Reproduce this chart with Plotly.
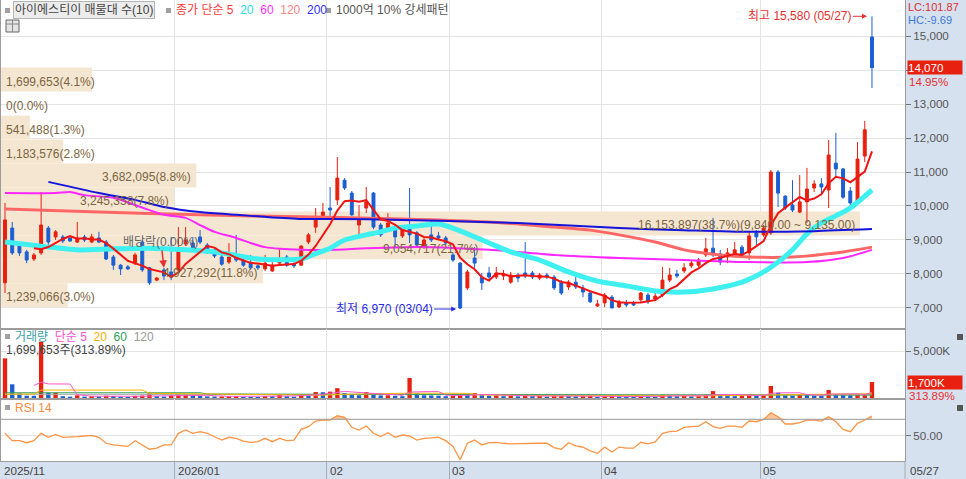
import numpy as np
import pandas as pd
import plotly.graph_objects as go

# ---- trading days shown (KRX calendar) ----
holidays = ["2025-12-25", "2025-12-31", "2026-01-01", "2026-02-16", "2026-02-17",
            "2026-02-18", "2026-03-02", "2026-05-01", "2026-05-05", "2026-05-25"]
days = pd.bdate_range("2025-11-26", "2026-05-27")
days = days[~days.isin(pd.to_datetime(holidays))]
ex_div_day = "2025-12-29"

# ---- daily candles (won) ----
opens = [7740, 9350, 8910, 8650, 8440, 8620, 9350, 9090, 9090, 9060,
         8940, 9090, 8940, 9060, 8940, 8500, 8260, 8210, 8320, 8940,
         8180, 7820, 8120, 8060, 8120, 8880, 8910, 9090, 8850, 8710,
         8500, 8350, 8500, 8410, 8320, 8240, 8150, 8090, 8320, 8500,
         8290, 8260, 8940, 9380, 9650, 9940, 10180, 10760, 10380, 9440,
         9940, 10380, 9440, 9290, 9350, 9120, 9350, 9210, 8790, 9150,
         9120, 9060, 8560, 8320, 7590, 8470, 7910, 8030, 7910, 7940,
         7760, 7970, 8030, 8030, 7880, 7970, 7910, 7760, 7620, 7760,
         7590, 7440, 7060, 7150, 7320, 7030, 7150, 7150, 7240, 7380,
         7260, 7380, 7820, 8000, 8090, 8240, 8260, 8560, 8760, 8590,
         8500, 8620, 8790, 8620, 9210, 9150, 9210, 11000, 10290, 10030,
         9820, 10120, 10530, 10650, 10470, 11260, 11090, 10440, 10090, 11470,
         14970]
highs = [10090, 9530, 8940, 8710, 8620, 10410, 9410, 9290, 9150, 9120,
         9530, 9150, 9180, 9240, 9000, 8560, 8290, 8260, 8620, 9000,
         8210, 7910, 8180, 9090, 9380, 9380, 9090, 9290, 8910, 8760,
         8560, 8910, 9150, 8470, 8560, 8290, 8560, 8350, 8710, 8560,
         8350, 8850, 9210, 9940, 10090, 10560, 11440, 10820, 10440, 10030,
         10560, 10410, 9500, 9790, 9440, 9410, 10530, 9260, 9060, 9590,
         9240, 9120, 8620, 8350, 8120, 8790, 8030, 8210, 8210, 8120,
         8060, 8030, 8940, 8090, 8030, 8030, 7970, 7820, 7820, 7910,
         7680, 7470, 7240, 7440, 7380, 7240, 7240, 7210, 7470, 7440,
         7470, 8210, 8180, 8120, 8320, 8410, 8470, 9060, 9650, 8710,
         8760, 8940, 8850, 9240, 9290, 9440, 11060, 11060, 10320, 10760,
         10910, 11120, 10760, 10820, 11940, 12150, 11120, 10560, 11880, 12500,
         15580]
lows = [7440, 8560, 8530, 8320, 8380, 8560, 8850, 9000, 8910, 8940,
        8910, 8940, 8910, 8910, 8410, 8120, 7970, 8120, 8260, 8060,
        7680, 7790, 7820, 7820, 8060, 8820, 8710, 8880, 8590, 8470,
        8240, 8290, 8350, 8210, 8120, 8120, 8090, 8060, 8260, 8210,
        8180, 8240, 8880, 9210, 9590, 9680, 10030, 10470, 9710, 9090,
        9790, 9320, 9090, 9240, 8790, 9060, 8910, 8790, 8740, 8940,
        9000, 8850, 8350, 6970, 7530, 8180, 7530, 7820, 7850, 7820,
        7710, 7760, 7880, 7850, 7820, 7850, 7530, 7380, 7530, 7560,
        7320, 7150, 7030, 7030, 7000, 7000, 7030, 7060, 7180, 7120,
        7210, 7320, 7760, 7880, 8030, 8180, 8210, 8500, 8500, 8260,
        8320, 8560, 8500, 8410, 8850, 9090, 9150, 9970, 9880, 9820,
        9790, 9500, 10410, 10320, 9940, 10850, 10210, 9970, 10030, 11290,
        13470]
closes = [9590, 8620, 8620, 8410, 8560, 9440, 8940, 9240, 8970, 8970,
          9060, 9000, 9090, 8940, 8440, 8260, 8150, 8150, 8560, 8120,
          7740, 7880, 7940, 7910, 8760, 9000, 8760, 8940, 8650, 8530,
          8290, 8500, 8410, 8260, 8180, 8180, 8320, 8260, 8380, 8260,
          8240, 8820, 9150, 9650, 9820, 9880, 10820, 10530, 9740, 9650,
          10120, 9380, 9150, 9500, 9090, 9350, 9150, 8850, 9000, 9000,
          9060, 8910, 8410, 7000, 8060, 8320, 7740, 7910, 8030, 8000,
          7970, 7880, 7940, 7910, 7970, 7910, 7590, 7440, 7760, 7620,
          7470, 7180, 7120, 7380, 7000, 7180, 7090, 7090, 7440, 7180,
          7350, 7820, 7970, 7940, 8180, 8320, 8410, 8740, 8560, 8350,
          8620, 8710, 8560, 9120, 9090, 9350, 11000, 10380, 9940, 9880,
          10120, 10500, 10650, 10560, 11500, 11090, 10260, 10090, 11380, 12240,
          14070]

# volume, thousand shares
vol_k = [4220, 1460, 500, 250, 240, 5970, 560, 570, 200, 150,
         290, 150, 200, 170, 250, 220, 150, 120, 230, 260,
         500, 200, 160, 300, 400, 420, 250, 220, 180, 160,
         170, 190, 220, 150, 140, 120, 200, 190, 380, 200,
         150, 330, 280, 640, 620, 680, 1050, 520, 380, 300,
         640, 400, 280, 300, 250, 200, 2130, 500, 300, 280,
         250, 200, 240, 420, 350, 530, 300, 250, 280, 200,
         220, 180, 290, 200, 210, 150, 200, 230, 210, 180,
         190, 220, 120, 200, 250, 150, 120, 100, 200, 150,
         130, 350, 300, 200, 220, 180, 200, 380, 740, 350,
         250, 200, 220, 400, 250, 280, 1280, 560, 300, 260,
         390, 350, 250, 220, 850, 390, 350, 300, 350, 410.65,
         1699.653]

rsi = [52.7, 43.6, 43.6, 41.1, 43.6, 52.7, 47.8, 51.4, 47.8, 47.8,
       48.6, 49.4, 50.2, 47.8, 40.4, 38.5, 37.3, 36.5, 43.6, 38.3,
       33.0, 34.3, 38.3, 38.3, 52.7, 56.8, 52.7, 54.7, 52.7, 48.5,
       44.4, 47.8, 46.5, 43.0, 41.6, 42.4, 46.5, 42.4, 46.5, 43.6,
       44.4, 57.6, 60.9, 67.9, 69.1, 69.1, 74.4, 72.3, 60.1, 56.8,
       61.7, 52.7, 48.6, 53.5, 47.8, 50.6, 49.4, 44.4, 46.5, 47.0,
       47.8, 43.6, 36.5, 20.0, 40.4, 44.4, 38.3, 41.1, 41.6, 40.4,
       39.6, 40.0, 40.4, 40.4, 40.4, 40.4, 35.0, 33.0, 41.1, 37.3,
       35.5, 31.0, 28.0, 35.7, 29.6, 35.7, 34.3, 34.3, 41.6, 39.6,
       42.0, 52.7, 54.7, 55.5, 60.1, 60.9, 61.7, 67.0, 61.0, 58.9,
       61.7, 61.7, 60.1, 67.9, 67.0, 69.9, 78.1, 73.2, 64.2, 64.2,
       65.9, 69.1, 69.1, 67.9, 73.2, 67.0, 57.6, 54.7, 65.0, 69.1,
       74.0]

# moving averages (index, won)
ma20_i = [0, 5, 10, 15, 20, 25, 30, 35, 38, 41, 43, 45, 47, 50, 52, 54, 57, 60, 62, 64,
          67, 70, 74, 78, 82, 86, 90, 94, 98, 102, 105, 107, 109, 111, 113, 115, 117, 119, 120]
ma20_v = [8940, 8820, 8710, 8740, 8760, 8710, 8620, 8440, 8420, 8440, 8600, 8760, 9000, 9150,
          9240, 9350, 9410, 9470, 9350, 9180, 8910, 8650, 8410, 8060, 7790, 7650, 7500, 7470,
          7560, 7760, 8060, 8350, 8710, 9180, 9500, 9710, 9940, 10290, 10470]
ma60_i = [0, 7, 9, 11, 15, 18, 20, 22, 25, 27, 29, 32, 34, 36, 38, 41, 45, 50, 55, 59,
          67, 76, 85, 94, 103, 111, 116, 120]
ma60_v = [10380, 10380, 10410, 10320, 10240, 10030, 9880, 9740, 9650, 9440, 9240, 9060, 8910,
          8790, 8740, 8710, 8710, 8760, 8790, 8790, 8710, 8560, 8470, 8410, 8350, 8350, 8470, 8710]
ma120_i = [0, 13, 27, 41, 55, 67, 76, 81, 85, 90, 94, 99, 103, 109, 116, 120]
ma120_v = [9910, 9820, 9740, 9680, 9620, 9530, 9380, 9290, 9150, 8940, 8710, 8560, 8500,
           8500, 8650, 8790]
ma200_i = [6, 13, 18, 22, 27, 32, 36, 41, 45, 55, 66, 71, 85, 94, 103, 112, 120]
ma200_v = [10710, 10380, 10180, 9970, 9820, 9740, 9680, 9620, 9620, 9590, 9530, 9500, 9350,
           9290, 9240, 9260, 9320]

# volume moving averages (index, thousand shares)
vma20_i = [0, 4, 5, 19, 20, 44, 46, 56, 64, 66, 76, 98, 106, 114, 120]
vma20_v = [420, 420, 850, 850, 500, 300, 380, 520, 500, 330, 250, 240, 330, 400, 470]
vma60_i = [0, 27, 28, 62, 65, 90, 105, 120]
vma60_v = [560, 560, 430, 430, 380, 320, 300, 330]
vma120_i = [0, 60, 80, 120]
vma120_v = [400, 400, 400, 330]

# volume profile (매물대), 10 price bands
band_lo = [13365, 12660, 11955, 11250, 10545, 9840, 9135, 8430, 7725, 7020]
band_hi = [14070, 13365, 12660, 11955, 11250, 10545, 9840, 9135, 8430, 7725]
band_vol = [1699653, 0, 541488, 1183576, 3682095, 3245358, 16153897, 9054717, 4927292, 1239066]
band_pct = [4.1, 0.0, 1.3, 2.8, 8.8, 7.8, 38.7, 21.7, 11.8, 3.0]

price_ticks = [7000, 8000, 9000, 10000, 11000, 12000, 13000, 14000, 15000]

# ---- look ----
FONT = "Liberation Sans, Noto Sans CJK KR, sans-serif"
FS = 11.6
RED, BLUE = "#e8200f", "#1b5fd1"
BEIGE = "#f5e6d2"
SIDE = "#d6e1ef"
GRID = "#e4e4e4"
BORDER = "#9c9c9c"

L, R, T, B = 1, 61, 0, 18
PW, PH = 966 - L - R, 479 - T - B


def px(x):
    return (x - L) / PW


def py(y):
    return (PH + T - y) / PH


n = len(closes)
xi = list(range(n))
close_s = pd.Series(closes, dtype=float)
ma5 = close_s.rolling(5).mean()
vol_s = pd.Series(vol_k, dtype=float)
vma5 = vol_s.rolling(5).mean()
vol_col = [RED] + [RED if vol_k[i] > vol_k[i - 1] else BLUE for i in range(1, n)]

# month gridlines / date labels
month_first = [i for i in range(1, n) if days[i].month != days[i - 1].month and i > 10]
grid_x = [i - 0.5 for i in month_first]
date_lab = [(-0.5, days[0].strftime("%Y/%m"))]
for i in month_first:
    d = days[i]
    date_lab.append((i - 0.5, d.strftime("%Y/%m") if d.month == 1 else d.strftime("%m")))

# the current-price box hides the nearest axis label
price_text = ["" if abs(v - closes[-1]) < 300 else f"{v:,}" for v in price_ticks]

fig = go.Figure()

# volume profile bands on their own (hidden) x scale
band_mid = [(a + b) / 2 for a, b in zip(band_lo, band_hi)]
band_max = 40.73
fig.add_trace(go.Bar(y=band_mid, x=band_pct, base=0, orientation="h",
                     width=[b - a for a, b in zip(band_lo, band_hi)],
                     marker=dict(color=BEIGE, line=dict(width=0)),
                     xaxis="x", yaxis="y", hoverinfo="skip"))

# price moving averages
for idx, val, col, w in [(ma120_i, ma120_v, "#ff6767", 3), (ma60_i, ma60_v, "#ff26ff", 2),
                         (ma20_i, ma20_v, "#3ef0f0", 5), (ma200_i, ma200_v, "#1414dc", 2)]:
    fig.add_trace(go.Scatter(x=idx, y=val, mode="lines", xaxis="x2", yaxis="y",
                             line=dict(color=col, width=w, shape="spline", smoothing=0.7),
                             hoverinfo="skip"))

fig.add_trace(go.Candlestick(
    x=xi, open=opens, high=highs, low=lows, close=closes,
    increasing=dict(line=dict(color=RED, width=1), fillcolor=RED),
    decreasing=dict(line=dict(color=BLUE, width=1), fillcolor=BLUE),
    whiskerwidth=0, xaxis="x2", yaxis="y", hoverinfo="skip"))

fig.add_trace(go.Scatter(x=xi, y=ma5, mode="lines", xaxis="x2", yaxis="y",
                         line=dict(color="#f01414", width=2), hoverinfo="skip"))

# volume
fig.add_trace(go.Bar(x=xi, y=vol_k, width=0.6, marker=dict(color=vol_col, line=dict(width=0)),
                     xaxis="x3", yaxis="y2", hoverinfo="skip"))
for idx, val, col in [(vma120_i, vma120_v, "#a8a8a8"), (vma60_i, vma60_v, "#2e9e58"),
                      (vma20_i, vma20_v, "#f0b400")]:
    fig.add_trace(go.Scatter(x=idx, y=val, mode="lines", xaxis="x3", yaxis="y2",
                             line=dict(color=col, width=1), hoverinfo="skip"))
fig.add_trace(go.Scatter(x=xi, y=vma5, mode="lines", xaxis="x3", yaxis="y2",
                         line=dict(color="#ff55cc", width=1), hoverinfo="skip"))

# RSI with shading above 70
fig.add_trace(go.Scatter(x=xi, y=[70] * n, mode="lines", line=dict(width=0),
                         xaxis="x4", yaxis="y3", hoverinfo="skip"))
fig.add_trace(go.Scatter(x=xi, y=np.maximum(rsi, 70), mode="lines", line=dict(width=0),
                         fill="tonexty", fillcolor="#f8c49a", xaxis="x4", yaxis="y3",
                         hoverinfo="skip"))
fig.add_trace(go.Scatter(x=xi, y=rsi, mode="lines", line=dict(color="#ff9444", width=1.3),
                         xaxis="x4", yaxis="y3", hoverinfo="skip"))

ax_common = dict(showgrid=True, gridcolor=GRID, gridwidth=1, zeroline=False,
                 showline=True, mirror=True, linecolor=BORDER, linewidth=1)
tick_font = dict(family=FONT, size=FS, color="#555")
xr = [-0.554, 124.57]
fig.update_layout(
    width=966, height=479, margin=dict(l=L, r=R, t=T, b=B),
    paper_bgcolor=SIDE, plot_bgcolor="white", showlegend=False, hovermode=False,
    boxgap=0.42, font=dict(family=FONT, size=FS, color="#555"),
    xaxis=dict(visible=False, range=[0, band_max], domain=[0, 1], anchor="y", fixedrange=True),
    xaxis2=dict(overlaying="x", anchor="y", range=xr, tickmode="array", tickvals=grid_x,
                showticklabels=False, ticks="", rangeslider=dict(visible=False), **ax_common),
    xaxis3=dict(matches="x2", anchor="y2", tickmode="array", tickvals=grid_x,
                showticklabels=False, ticks="", **ax_common),
    xaxis4=dict(matches="x2", anchor="y3", tickmode="array", tickvals=grid_x,
                showticklabels=False, ticks="outside", ticklen=18, tickcolor="#a4aeba",
                **ax_common),
    yaxis=dict(domain=[py(329), 1], anchor="x", side="right", range=[6382, 16059],
               tickmode="array", tickvals=price_ticks, ticktext=price_text,
               ticks="outside", ticklen=5, tickcolor="#777", tickfont=tick_font, **ax_common),
    yaxis2=dict(domain=[py(399), py(329)], anchor="x3", side="right", range=[-101, 7338],
                tickmode="array", tickvals=[5000], ticktext=["5,000K"], ticks="outside",
                ticklen=5, tickcolor="#777", tickfont=tick_font, **ax_common),
    yaxis3=dict(domain=[0, py(399)], anchor="x4", side="right", range=[18.5, 95.1],
                tickmode="array", tickvals=[50], ticktext=["50.00"], ticks="outside",
                ticklen=5, tickcolor="#777", tickfont=tick_font, **ax_common),
)

shapes = [
    dict(type="line", xref="paper", x0=0, x1=1, yref="y3", y0=70, y1=70,
         line=dict(color="#9a9a9a", width=1)),
    dict(type="line", xref="paper", x0=1, x1=1, yref="paper", y0=0, y1=py(479),
         line=dict(color="#a4aeba", width=1)),
    dict(type="rect", xref="paper", yref="paper", x0=px(6), x1=px(19), y0=py(32), y1=py(20),
         line=dict(color="#666", width=1), fillcolor="#e4e4e4"),
    dict(type="line", xref="paper", yref="paper", x0=px(6), x1=px(19), y0=py(24), y1=py(24),
         line=dict(color="#888", width=1)),
    dict(type="line", xref="paper", yref="paper", x0=px(12.5), x1=px(12.5), y0=py(32), y1=py(20),
         line=dict(color="#888", width=1)),
]
for (x0, y0) in [(5, 8), (166, 8), (326, 8), (5, 334), (5, 405)]:
    shapes.append(dict(type="rect", xref="paper", yref="paper", x0=px(x0), x1=px(x0 + 5),
                       y0=py(y0 + 5), y1=py(y0), line=dict(width=0), fillcolor="#a0a0a0"))
for y0 in [334, 405]:
    shapes.append(dict(type="rect", xref="paper", yref="paper", x0=px(957), x1=px(963),
                       y0=py(y0 + 6), y1=py(y0), line=dict(width=0), fillcolor="#555"))
fig.update_layout(shapes=shapes)

anns = []


def note(x, y, text, color="#444", size=FS, **kw):
    d = dict(x=x, y=y, xref="paper", yref="paper", text=text, showarrow=False,
             xanchor="left", yanchor="middle", font=dict(color=color, size=size, family=FONT))
    d.update(kw)
    anns.append(d)


# legends
note(px(13), py(10), "아이에스티이 매물대 수(10)", size=12, bgcolor="#ececec",
     bordercolor="#b4b4b4", borderwidth=1, borderpad=1)
note(px(174), py(10), "<span style='color:#ff3c3c'>종가 단순 5</span>  "
     "<span style='color:#1fe0e0'>20</span>  <span style='color:#ff33ff'>60</span>  "
     "<span style='color:#ff8585'>120</span>  <span style='color:#3333ff'>200</span>", size=12)
note(px(334), py(10), "1000억 10% 강세패턴", "#555", size=12)
note(px(13), py(337), "<span style='color:#3aa0a8'>거래량</span>  "
     "<span style='color:#ff4fcf'>단순 5</span>  <span style='color:#f0b000'>20</span>  "
     "<span style='color:#2e9e58'>60</span>  <span style='color:#999'>120</span>", size=12)
vol_chg = (vol_k[-1] / vol_k[-2] - 1) * 100
note(px(4), py(350), f"{round(vol_k[-1] * 1000):,}주({vol_chg:.2f}%)", size=12)
note(px(13), py(408), "RSI 14", "#ff8a3c", size=12)

# right column
lc = (closes[-1] / min(lows) - 1) * 100
hc = (closes[-1] / max(highs) - 1) * 100
note(1, py(7), f"LC:{lc:.2f}", "#e03030", size=11, xshift=2, borderpad=0)
note(1, py(20), f"HC:{hc:.2f}", "#3a78d8", size=11, xshift=2, borderpad=0)
chg = (closes[-1] / closes[-2] - 1) * 100
anns.append(dict(x=1, xref="paper", y=closes[-1], yref="y", text=f"{closes[-1]:,}",
                 showarrow=False, xanchor="left", yanchor="middle", xshift=2, align="left",
                 width=54, bgcolor=RED, borderpad=0, font=dict(color="white", size=FS, family=FONT)))
anns.append(dict(x=1, xref="paper", y=closes[-1], yref="y", text=f"{chg:.2f}%", yshift=-14,
                 showarrow=False, xanchor="left", yanchor="middle", xshift=3, borderpad=0,
                 font=dict(color="#e83030", size=FS, family=FONT)))
anns.append(dict(x=1, xref="paper", y=vol_k[-1], yref="y2", text=f"{round(vol_k[-1]):,}K",
                 showarrow=False, xanchor="left", yanchor="middle", xshift=2, align="left",
                 width=54, bgcolor=RED, borderpad=0, font=dict(color="white", size=FS, family=FONT)))
anns.append(dict(x=1, xref="paper", y=vol_k[-1], yref="y2", text=f"{vol_chg:.2f}%", yshift=-13,
                 showarrow=False, xanchor="left", yanchor="middle", xshift=3, borderpad=0,
                 font=dict(color="#e83030", size=FS, family=FONT)))
note(px(908), py(470), days[-1].strftime("%m/%d"))

# date labels
for pos, lab in date_lab:
    anns.append(dict(x=pos, xref="x4", y=py(470), yref="paper", text=lab, showarrow=False,
                     xanchor="left", yanchor="middle", xshift=1,
                     font=dict(color="#444", size=FS, family=FONT)))

# volume profile labels
big = int(np.argmax(band_pct))
for k in range(len(band_lo)):
    txt = f"{band_vol[k]:,}({band_pct[k]:.1f}%)"
    if k == big:
        txt += f"({band_hi[k]:,.2f} ~ {band_lo[k]:,.2f})"
    bar_px = band_pct[k] / band_max * PW
    if bar_px > len(txt) * 6.1:
        pos, anchor, sh = band_pct[k], "right", -3
    else:
        pos, anchor, sh = 0, "left", 3
    anns.append(dict(x=pos, xref="x", y=band_mid[k], yref="y", text=txt, showarrow=False,
                     xanchor=anchor, yanchor="middle", xshift=sh, yshift=-2,
                     font=dict(color="#7b6541", size=12, family=FONT)))

# high / low / ex-dividend markers
hi_i = int(np.argmax(highs))
lo_i = int(np.argmin(lows))
anns.append(dict(x=hi_i, xref="x2", y=highs[hi_i], yref="y",
                 text=f"최고 {highs[hi_i]:,} ({days[hi_i].strftime('%m/%d')})",
                 showarrow=True, arrowhead=2, arrowsize=1, arrowwidth=1, arrowcolor="#e83030",
                 ax=-72, ay=0, standoff=5, font=dict(color="#e83030", size=12, family=FONT)))
anns.append(dict(x=lo_i, xref="x2", y=lows[lo_i], yref="y",
                 text=f"최저 {lows[lo_i]:,} ({days[lo_i].strftime('%m/%d')})",
                 showarrow=True, arrowhead=2, arrowsize=1, arrowwidth=1, arrowcolor="#2a2ae0",
                 ax=-76, ay=0, standoff=4, font=dict(color="#2a2ae0", size=12, family=FONT)))
dv = days.get_loc(pd.Timestamp(ex_div_day))
anns.append(dict(x=dv, xref="x2", y=highs[dv], yref="y", text="배당락(0.00%)",
                 showarrow=True, arrowhead=2, arrowsize=1, arrowwidth=1.5, arrowcolor="#e83030",
                 ax=-3, ay=-26, standoff=0, font=dict(color="#666", size=12, family=FONT)))

fig.update_layout(annotations=anns)
fig.write_html("out.html", config={"displayModeBar": False},
               post_script="document.body.style.margin='0';")
